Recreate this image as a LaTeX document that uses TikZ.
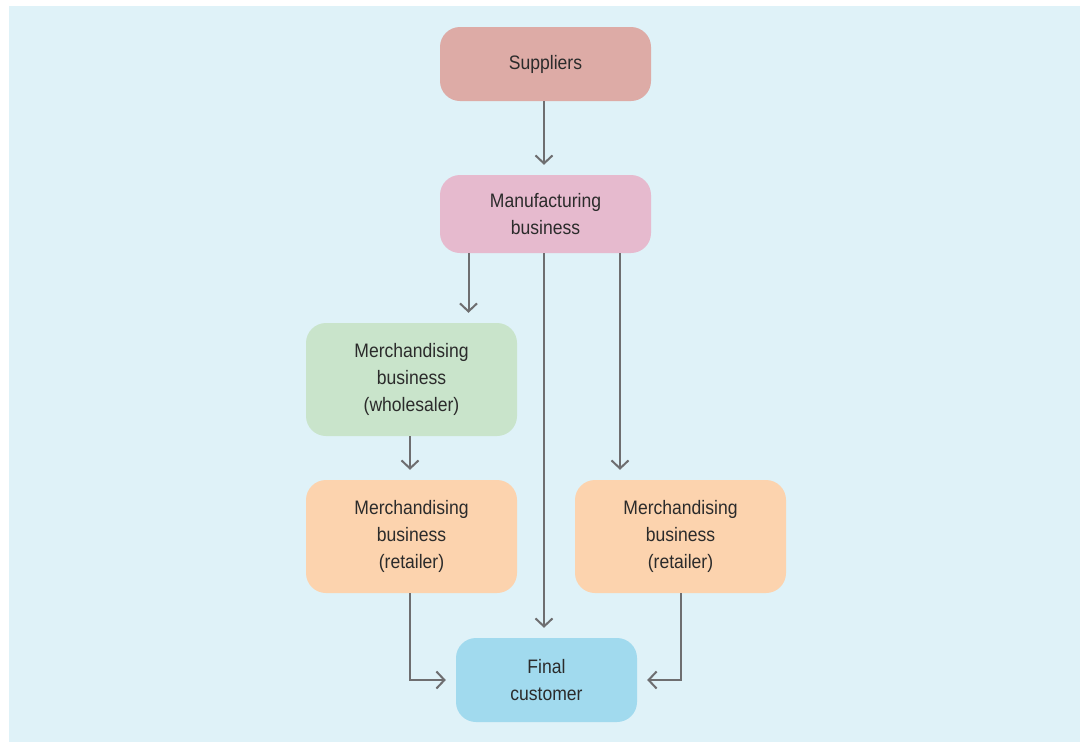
\documentclass[tikz,border=0pt]{standalone}
\usepackage{fontspec}
\setmainfont{Liberation Sans}[FakeStretch=0.9]
\usetikzlibrary{arrows.meta}
\definecolor{bgblue}{HTML}{DFF2F8}
\definecolor{supcol}{HTML}{DDABA6}
\definecolor{mancol}{HTML}{E6BACE}
\definecolor{wholecol}{HTML}{C9E4CB}
\definecolor{retcol}{HTML}{FCD3AE}
\definecolor{fincol}{HTML}{A1DAEE}
\definecolor{linecol}{HTML}{6E6E70}
\definecolor{textcol}{HTML}{2B2B2B}
\begin{document}
\begin{tikzpicture}[x=1pt,y=-1pt,
  box/.style={rounded corners=20pt, align=center, text=textcol,
    inner sep=0pt, minimum width=211pt,
    font=\fontsize{19.5}{27}\selectfont},
  flow/.style={draw=linecol, line width=2pt,
    -{Straight Barb[length=8pt,width=17pt,line width=2pt]}, shorten >=10pt}]
  \useasboundingbox (0,0) rectangle (1080,742);
  \fill[bgblue] (9,6) rectangle (1080,742);

  \node[box, fill=supcol, minimum height=74pt] (sup) at (545.5,64) {Suppliers};
  \node[box, fill=mancol, minimum height=78pt] (man) at (545.5,214) {Manufacturing\\business};
  \node[box, fill=wholecol, minimum height=113pt] (whole) at (411.5,379.5) {Merchandising\\business\\(wholesaler)};
  \node[box, fill=retcol, minimum height=113pt] (retL) at (411.5,536.5) {Merchandising\\business\\(retailer)};
  \node[box, fill=retcol, minimum height=113pt] (retR) at (680.5,536.5) {Merchandising\\business\\(retailer)};
  \node[box, fill=fincol, minimum width=181pt, minimum height=84pt] (fin) at (546.5,680) {Final\\customer};

  \draw[flow] ([xshift=-1.5pt]sup.south) -- ([xshift=-1.5pt]sup.south |- man.north);
  \draw[flow] ([xshift=-77pt]man.south) -- ([xshift=-77pt]man.south |- whole.north);
  \draw[flow] ([xshift=-1.5pt]man.south) -- ([xshift=-1.5pt]man.south |- fin.north);
  \draw[flow] ([xshift=74.5pt]man.south) -- ([xshift=74.5pt]man.south |- retR.north);
  \draw[flow] ([xshift=-1.5pt]whole.south) -- ([xshift=-1.5pt]whole.south |- retL.north);
  \draw[flow] ([xshift=-1.5pt]retL.south) |- (fin.west);
  \draw[flow] (retR.south) |- (fin.east);
\end{tikzpicture}
\end{document}
